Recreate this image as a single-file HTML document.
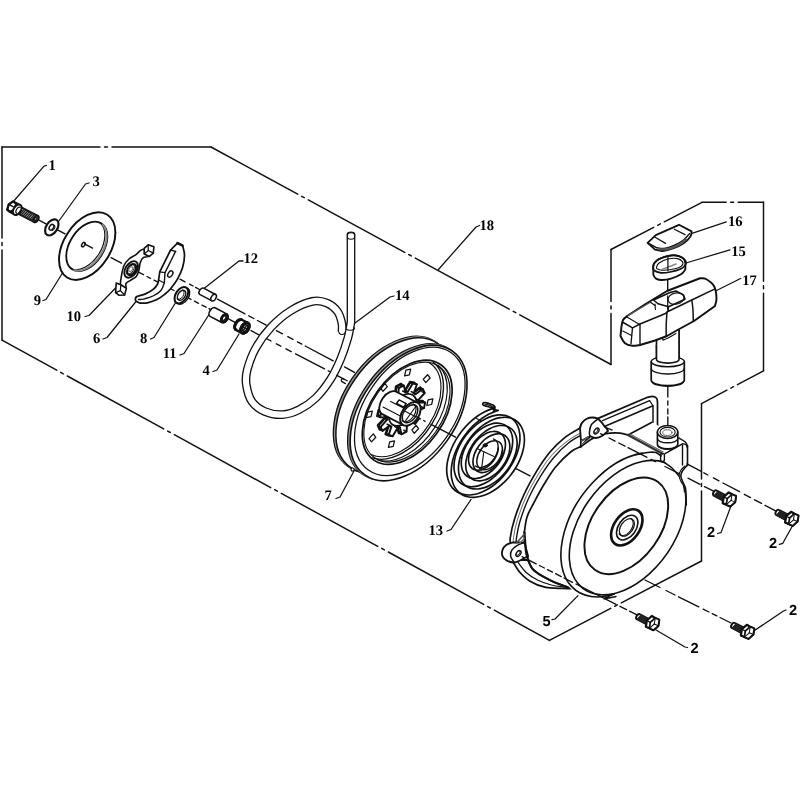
<!DOCTYPE html>
<html lang="en"><head><meta charset="utf-8"><title>Recoil starter assembly</title>
<style>
html,body{margin:0;padding:0;background:#fff}
svg{display:block}
svg path,svg ellipse,svg circle,svg line,svg polygon,svg rect{fill:none;stroke:#111;stroke-linecap:round;stroke-linejoin:round}
svg .w{fill:#fff}
svg .k{fill:#111}
text{fill:#000;stroke:none;font-weight:bold;text-rendering:geometricPrecision}
.t{font-family:"Liberation Serif",serif}
.s{font-family:"Liberation Sans",sans-serif}
</style></head><body>
<svg width="800" height="800" viewBox="0 0 800 800">
<defs><filter id="nf" x="0" y="0" width="800" height="800" filterUnits="userSpaceOnUse"><feOffset dx="0" dy="0"/></filter></defs>
<rect x="0" y="0" width="800" height="800" style="fill:#fff;stroke:none"/>
<path d="M2 147L100 147M104.5 147L107.5 147M112 147L211 147" stroke-width="1.49" />
<path d="M211 147L297.7 194.2M301.7 196.3L304.3 197.7M308.3 199.9L404.7 252.3M408.7 254.5L411.3 255.9M415.3 258.1L509.2 309.2M513.2 311.3L515.8 312.7M519.8 314.9L611 364.5" stroke-width="1.49" />
<path d="M611 364.5L611 313.4M611 308.9L611 305.9M611 301.4L611 249.5" stroke-width="1.49" />
<path d="M611 249.5L653.7 227.4M657.7 225.3L660.3 223.9M664.3 221.8L702 202.3" stroke-width="1.49" />
<path d="M702 202.3L726.2 202.3M730.7 202.3L733.7 202.3M738.2 202.3L763.5 202.3" stroke-width="1.49" />
<path d="M763.5 202.3L763.5 281.2M763.5 285.7L763.5 288.7M763.5 293.2L763.5 370.8" stroke-width="1.49" />
<path d="M763.5 370.8L737.5 384.6M733.5 386.7L730.9 388.1M726.9 390.2L701.5 403.7" stroke-width="1.49" />
<path d="M701.5 403.7L701.5 479M701.5 483.5L701.5 486.5M701.5 491L701.5 561" stroke-width="1.49" />
<path d="M701.5 561L621.3 602.9M617.3 604.9L614.7 606.3M610.7 608.4L549.4 640.4" stroke-width="1.49" />
<path d="M2 340.2L56.7 370.2M60.7 372.4L63.3 373.8M67.3 376L163.7 428.9M167.7 431.1L170.3 432.5M174.3 434.7L270.7 487.6M274.7 489.7L277.3 491.2M281.3 493.3L377.7 546.3M381.7 548.4L384.3 549.9M388.3 552L483.7 604.4M487.7 606.6L490.3 608M494.3 610.2L549.4 640.4" stroke-width="1.49" />
<path d="M2 147L2 238M2 242.5L2 245.5M2 250L2 340.2" stroke-width="1.49" />
<g filter="url(#nf)">
<text class="t" x="48.5" y="169.5" font-size="14.6">1</text>
<path d="M46.5 165.5L44 166.2L12.5 202.5" stroke-width="1.26" />
<text class="t" x="92.5" y="186" font-size="14.6">3</text>
<path d="M89 183L85.5 184L56 225" stroke-width="1.26" />
<text class="t" x="33.7" y="305" font-size="14.6">9</text>
<path d="M43 300.5L46 299.5L67.5 265" stroke-width="1.26" />
<text class="t" x="66.5" y="321" font-size="14.6">10</text>
<path d="M85 316.5L89 315.5L117.5 286" stroke-width="1.26" />
<text class="t" x="93" y="342.5" font-size="14.6">6</text>
<path d="M103 339L107 337.5L136 301.5" stroke-width="1.26" />
<text class="t" x="140" y="342.5" font-size="14.6">8</text>
<path d="M150.5 339L154 337.5L176 302" stroke-width="1.26" />
<text class="t" x="162.7" y="358" font-size="14.6">11</text>
<path d="M180 355L184 353.5L210 313" stroke-width="1.26" />
<text class="t" x="202.5" y="374.5" font-size="14.6">4</text>
<path d="M213 371.5L217 370L239 334" stroke-width="1.26" />
<text class="t" x="243.5" y="263" font-size="14.6">12</text>
<path d="M243 261L239 261L204 288.5" stroke-width="1.26" />
<text class="t" x="395" y="300" font-size="14.6">14</text>
<path d="M394 296L390 297L351 326" stroke-width="1.26" />
<text class="t" x="479.5" y="230" font-size="14.6">18</text>
<path d="M479.5 225.5L476 227L438 270" stroke-width="1.26" />
<text class="t" x="324.5" y="500" font-size="14.6">7</text>
<path d="M336 498.5L340 497L354 471" stroke-width="1.26" />
<text class="t" x="428.5" y="534.5" font-size="14.6">13</text>
<path d="M447 531L451 529.5L472 498" stroke-width="1.26" />
<text class="t" x="728" y="226" font-size="14.6">16</text>
<path d="M726.3 221.9L692 233.3" stroke-width="1.26" />
<text class="t" x="731.3" y="255.6" font-size="14.6">15</text>
<path d="M730 249.8L686 263" stroke-width="1.26" />
<text class="t" x="742.2" y="284.6" font-size="14.6">17</text>
<path d="M740.6 278.5L716 290.8" stroke-width="1.26" />
<text class="s" x="542.5" y="625.6" font-size="14.6">5</text>
<path d="M552 619.6L555 619L578 595.6" stroke-width="1.26" />
<text class="s" x="707" y="537.4" font-size="14.6">2</text>
<path d="M717.5 533.5L721 532.6L730.6 507" stroke-width="1.26" />
<text class="s" x="769" y="547.7" font-size="14.6">2</text>
<path d="M779.4 544.3L782.8 543.3L792.5 525.7" stroke-width="1.26" />
<text class="s" x="789" y="615" font-size="14.6">2</text>
<path d="M786 610L783.5 611L753.8 631" stroke-width="1.26" />
<text class="s" x="690.4" y="653" font-size="14.6">2</text>
<path d="M687.6 647.5L685 647L656 630" stroke-width="1.26" />
</g>
<!-- axes -->
<path d="M37 219.2L46 223.9M58 230.1L65 233.8M106.5 255.4L107.9 256.1M111 257.7L121.5 263.2M139 272.3L143.5 274.6M147 276.5L150.5 278.3M154 280.1L158 282.2M164 285.3L168 287.4M171 289L174 290.5M188.5 298.1L191 299.4M194.5 301.2L198.5 303.3M202 305.1L206 307.2M209 308.7L211.5 310.1M228 318.6L235 322.3M251 330.6L259 334.8M266 338.4L271 341M276.4 343.8L280.8 346.1M286 348.8L291.2 351.6M295.6 353.8L324.5 368.9M328.2 370.8L329.6 371.5M516 468.6L530 475.9" stroke-width="1.38" />
<path d="M174.5 276.2L177 277.5M180 279.1L185 281.8M189.5 284.2L193 286M195.6 287.4L199.5 289.5M217.5 299.1L245 313.8M248.8 315.8L253.8 318.5M257.5 320.5L266.2 325.1M276.4 330.6L282.5 333.8M287.8 336.6L293 339.4M297.4 341.8L301.8 344.1M305.2 346L333.2 360.9M336.8 362.8L339.5 364.3" stroke-width="1.38" />
<!-- small -->
<path d="M37.8 215.9L19.9 206.6A3.6 2.3 -57.3 0 0 16.1 212.6L34 221.9" stroke-width="1.95" class="w"/>
<ellipse cx="35.9" cy="218.9" rx="3.6" ry="2.3" transform="rotate(-57.3 35.9 218.9)" stroke-width="1.95" class="w"/>
<path d="M24.3 209.2L19.7 214.2M26 210.1L21.4 215.1M27.7 210.9L23 215.9M29.4 211.8L24.7 216.8M31 212.7L26.4 217.7M32.7 213.6L28.1 218.6M34.4 214.4L29.8 219.4M36.1 215.3L31.5 220.3M37.8 216.2L33.2 221.2" stroke-width="1.49" style="stroke:#222"/>
<ellipse cx="35.6" cy="218.8" rx="1.9" ry="1.2" transform="rotate(-57.3 35.6 218.8)" stroke-width="1.15" style="fill:#888"/>
<path d="M13.1 201.4L8.7 204.4L7.2 209.7L10.1 212.1L14.4 214.3L18.8 211.4L20.3 206L17.5 203.7Z" stroke-width="2.18" class="w"/>
<path d="M8.7 204.4L13.1 206.6" stroke-width="1.49" />
<path d="M7.2 209.7L11.5 212" stroke-width="1.49" />
<path d="M16 203.8L13.1 201.4L8.7 204.4L7.2 209.7L10.1 212.1L14.4 209.1Z" stroke-width="1.84" />
<ellipse cx="17.3" cy="209.7" rx="5.7" ry="3.6" transform="rotate(-57.3 17.3 209.7)" stroke-width="2.07" class="w"/>
<path d="M20.2 207.3A3.5 2.2 -57.3 0 0 16.5 213.2" stroke-width="1.2" />
<ellipse cx="51.8" cy="227.4" rx="8.9" ry="5.6" transform="rotate(-57.3 51.8 227.4)" stroke-width="2.18" class="w"/>
<ellipse cx="51.5" cy="227.3" rx="3.1" ry="2" transform="rotate(-57.3 51.5 227.3)" stroke-width="1.49" />
<path d="M52.2 230.6A3.1 2 -57.3 0 0 53.8 225" stroke-width="1.0" />
<ellipse cx="87.2" cy="246.1" rx="37.3" ry="23.4" transform="rotate(-57.3 87.2 246.1)" stroke-width="1.95" class="w"/>
<ellipse cx="86.8" cy="246.4" rx="27.2" ry="17.1" transform="rotate(-57.3 86.8 246.4)" stroke-width="1.84" />
<path d="M70.7 268.5A27.2 17.1 -57.3 0 0 99.7 222.6" stroke-width="1.2" />
<path d="M74.2 270.2A27.2 17.1 -57.3 0 0 102.8 224.9" stroke-width="2.0" style="stroke:#888"/>
<ellipse cx="83.4" cy="244.6" rx="2.4" ry="1.5" transform="rotate(-57.3 83.4 244.6)" stroke-width="1.49" />
<ellipse cx="181.4" cy="295.2" rx="9.1" ry="5.7" transform="rotate(-57.3 181.4 295.2)" stroke-width="2.07" class="w"/>
<ellipse cx="181.6" cy="295.3" rx="5.5" ry="3.5" transform="rotate(-57.3 181.6 295.3)" stroke-width="1.49" />
<path d="M177 299.1A5.5 3.5 -57.3 0 0 182.9 289.8" stroke-width="1.0" />
<path d="M177 302.7A9.1 5.7 -57.3 1 0 186.5 287.8" stroke-width="1.3" />
<path d="M215.6 294.5L203.6 288.2A3.7 2.3 -57.3 0 0 199.6 294.4L211.6 300.7" stroke-width="1.49" class="w"/>
<ellipse cx="213.6" cy="297.6" rx="3.7" ry="2.3" transform="rotate(-57.3 213.6 297.6)" stroke-width="1.49" class="w"/>
<path d="M227.1 314.1L215.5 308A4.9 3.1 -57.3 0 0 210.1 316.4L221.7 322.5" stroke-width="1.61" class="w"/>
<ellipse cx="224.4" cy="318.3" rx="4.9" ry="3.1" transform="rotate(-57.3 224.4 318.3)" stroke-width="1.61" class="w"/>
<ellipse cx="224.4" cy="318.3" rx="4.2" ry="2.6" transform="rotate(-57.3 224.4 318.3)" stroke-width="2.53" class="w"/>
<ellipse cx="224" cy="318.1" rx="2.5" ry="1.6" transform="rotate(-57.3 224 318.1)" stroke-width="1.38" />
<path d="M248.1 323L242.3 320A5.9 3.7 -57.3 0 0 235.9 329.9L241.8 332.9" stroke-width="2.53" class="w"/>
<ellipse cx="245" cy="328" rx="5.9" ry="3.7" transform="rotate(-57.3 245 328)" stroke-width="2.53" class="w"/>
<ellipse cx="245" cy="328" rx="5.9" ry="3.7" transform="rotate(-57.3 245 328)" stroke-width="2.53" class="w"/>
<ellipse cx="245" cy="328" rx="3.7" ry="2.3" transform="rotate(-57.3 245 328)" stroke-width="1.49" style="fill:#bbb"/>
<path d="M241.3 319.6A5.9 3.7 -57.3 0 0 235.5 329.5" stroke-width="3.0" />
<path d="M246.9 325L243.1 330.9" stroke-width="1.15" />
<path d="M243 327L246.9 329" stroke-width="1.15" />
<path d="M727.8 496.3L716.8 490.6A2.9 1.9 -57.3 0 0 713.7 495.6L724.6 501.3" stroke-width="1.95" class="w"/>
<path d="M718 491.6L714.3 495.5M719.2 492.3L715.5 496.2M720.5 492.9L716.8 496.8M721.7 493.6L718 497.5M723 494.2L719.3 498.1M724.2 494.8L720.5 498.8M725.4 495.5L721.7 499.4M726.7 496.1L723 500.1" stroke-width="1.44" style="stroke:#222"/>
<path d="M728.7 492.4L723.7 496.8L722.7 503.1L726.8 504.9L730.2 506.4L735.1 502.1L736 496.1L732 494.3Z" stroke-width="2.3" class="w"/>
<path d="M736 496.1L732 494.3L727.2 498.6L726.3 504.7L730.2 506.4L735.1 502.1Z" stroke-width="1.72" class="w"/>
<path d="M723.7 496.8L727.2 498.6" stroke-width="1.38" />
<path d="M722.7 503.1L726.3 504.7" stroke-width="1.38" />
<path d="M731.1 500.4L732 494.3" stroke-width="1.03" />
<path d="M731.1 500.4L726.3 504.7" stroke-width="1.03" />
<path d="M731.1 500.4L735.1 502.1" stroke-width="1.03" />
<path d="M790.2 515.7L779.2 510A2.9 1.9 -57.3 0 0 776.1 515L787 520.7" stroke-width="1.95" class="w"/>
<path d="M780.4 511L776.7 514.9M781.6 511.7L777.9 515.6M782.9 512.3L779.2 516.2M784.1 513L780.4 516.9M785.4 513.6L781.7 517.5M786.6 514.2L782.9 518.2M787.8 514.9L784.1 518.8M789.1 515.5L785.4 519.5" stroke-width="1.44" style="stroke:#222"/>
<path d="M791.1 511.8L786.1 516.2L785.1 522.5L789.2 524.3L792.6 525.8L797.5 521.5L798.4 515.5L794.4 513.7Z" stroke-width="2.3" class="w"/>
<path d="M798.4 515.5L794.4 513.7L789.6 518L788.7 524.1L792.6 525.8L797.5 521.5Z" stroke-width="1.72" class="w"/>
<path d="M786.1 516.2L789.6 518" stroke-width="1.38" />
<path d="M785.1 522.5L788.7 524.1" stroke-width="1.38" />
<path d="M793.5 519.8L794.4 513.7" stroke-width="1.03" />
<path d="M793.5 519.8L788.7 524.1" stroke-width="1.03" />
<path d="M793.5 519.8L797.5 521.5" stroke-width="1.03" />
<path d="M745.9 628.7L735 623A2.9 1.9 -57.3 0 0 731.8 628L742.7 633.7" stroke-width="1.95" class="w"/>
<path d="M736.1 624L732.4 627.9M737.4 624.7L733.7 628.6M738.6 625.3L734.9 629.2M739.9 626L736.2 629.9M741.1 626.6L737.4 630.5M742.3 627.2L738.7 631.2M743.6 627.9L739.9 631.8M744.8 628.5L741.1 632.5" stroke-width="1.44" style="stroke:#222"/>
<path d="M746.8 624.8L741.8 629.2L740.9 635.5L745 637.3L748.4 638.8L753.3 634.5L754.2 628.5L750.2 626.7Z" stroke-width="2.3" class="w"/>
<path d="M754.2 628.5L750.2 626.7L745.3 631L744.4 637.1L748.4 638.8L753.3 634.5Z" stroke-width="1.72" class="w"/>
<path d="M741.8 629.2L745.3 631" stroke-width="1.38" />
<path d="M740.9 635.5L744.4 637.1" stroke-width="1.38" />
<path d="M749.3 632.8L750.2 626.7" stroke-width="1.03" />
<path d="M749.3 632.8L744.4 637.1" stroke-width="1.03" />
<path d="M749.3 632.8L753.3 634.5" stroke-width="1.03" />
<path d="M650.9 620L640 614.3A2.9 1.9 -57.3 0 0 636.8 619.2L647.7 624.9" stroke-width="1.95" class="w"/>
<path d="M641.1 615.3L637.4 619.2M642.4 615.9L638.7 619.8M643.6 616.6L639.9 620.5M644.9 617.2L641.2 621.1M646.1 617.9L642.4 621.8M647.3 618.5L643.7 622.4M648.6 619.1L644.9 623.1M649.8 619.8L646.1 623.7" stroke-width="1.44" style="stroke:#222"/>
<path d="M651.8 616L646.8 620.5L645.9 626.7L650 628.5L653.4 630.1L658.3 625.8L659.2 619.7L655.2 618Z" stroke-width="2.3" class="w"/>
<path d="M659.2 619.7L655.2 618L650.3 622.3L649.4 628.3L653.4 630.1L658.3 625.8Z" stroke-width="1.72" class="w"/>
<path d="M646.8 620.5L650.3 622.3" stroke-width="1.38" />
<path d="M645.9 626.7L649.4 628.3" stroke-width="1.38" />
<path d="M654.3 624L655.2 618" stroke-width="1.03" />
<path d="M654.3 624L649.4 628.3" stroke-width="1.03" />
<path d="M654.3 624L658.3 625.8" stroke-width="1.03" />
<!-- mid -->
<path d="M120.6 285.5C119.9 283.3 121 278.3 121.6 275C122.2 271.7 122.8 268.2 124 265.5C125.2 262.8 127 260.8 129 259C131 257.2 134.1 256 136 254.6C137.9 253.2 139.1 251.3 140.5 250.5C141.9 249.7 143.1 248.7 144.4 249.6C145.7 250.5 148.7 254.6 148.5 256C148.3 257.4 144.4 256.7 143 257.8C141.6 258.9 141 260.5 140.3 262.5C139.6 264.5 139.6 267.7 138.9 270C138.2 272.3 137.7 274.8 136.3 276.5C134.9 278.2 132.2 279.1 130.5 280.3C128.8 281.5 126.8 282.2 126 283.5C125.2 284.8 126.7 287.7 125.8 288C124.9 288.3 121.3 287.7 120.6 285.5Z" stroke-width="1.61" class="w"/>
<path d="M144.2 248.3L148.1 244.8L153.9 246.8L153.3 253.1L149.4 256.4L144.2 253.9Z" stroke-width="1.61" class="w"/>
<path d="M148.1 244.8L148.3 250.5L144.2 253.9" stroke-width="1.26" />
<path d="M148.3 250.5L153.3 253.1" stroke-width="1.26" />
<path d="M116.2 283L120.8 284.8L126.4 288.2L124.6 295L118.8 295.2L115.6 292.6Z" stroke-width="1.61" class="w"/>
<path d="M120.8 284.8L120.4 290.6L115.6 292.6" stroke-width="1.26" />
<path d="M120.4 290.6L124.6 295" stroke-width="1.26" />
<ellipse cx="131.2" cy="269.4" rx="9.1" ry="5.7" transform="rotate(-57.3 131.2 269.4)" stroke-width="1.95" class="w"/>
<ellipse cx="131.6" cy="269.6" rx="6" ry="3.8" transform="rotate(-57.3 131.6 269.6)" stroke-width="2.3" />
<path d="M126.7 273.8A6 3.8 -57.3 0 0 133.1 263.6" stroke-width="1.0" />
<ellipse cx="130.7" cy="269.1" rx="2.6" ry="1.7" transform="rotate(-57.3 130.7 269.1)" stroke-width="1.15" style="stroke:#777"/>
<path d="M170.6 250L177.5 243.1L182.6 245.6C182.9 247.2 184.5 251.3 184.5 255C184.5 258.6 183.8 263.5 182.6 267.5C181.4 271.5 179.6 275.2 177.6 278.8C175.6 282.3 172.8 286.1 170.6 288.8C168.4 291.4 166.8 292.7 164.5 294.5C162.2 296.3 159.8 298.2 157 299.6C154.2 301 150.3 302.2 147.5 302.8C144.7 303.4 141.2 303.1 140 303.2C139.3 302.8 136.7 301.9 136 301C135.3 300.1 135.4 298.3 135.8 297.5C136.2 296.7 138.1 296.2 138.5 296C139.8 295.6 143.5 294.7 146 293.6C148.5 292.5 151.6 290.8 153.5 289.2C155.4 287.6 156.8 285.5 157.6 284C158.4 282.5 158.4 280.7 158.6 280L159.75 271.9Z" stroke-width="1.72" class="w"/>
<path d="M175.6 251.4L165 272.6L164.3 283C163.8 284.2 162.9 288.3 161 290.5C159.1 292.7 155.8 294.6 153 296C150.2 297.4 146.9 298.2 144.5 298.8C142.1 299.4 139.5 299.4 138.5 299.5" stroke-width="1.38" />
<path d="M170.6 250L175.6 251.4" stroke-width="1.38" />
<path d="M159.8 271.9L165 272.6" stroke-width="1.26" />
<path d="M158.6 280L164.3 283" stroke-width="1.26" />
<path d="M177.5 243.1L182.6 245.6" stroke-width="2.53" />
<ellipse cx="170.3" cy="274" rx="3.5" ry="2.2" transform="rotate(-57.3 170.3 274)" stroke-width="1.38" />
<path d="M351 234.5L351 322C350.1 327.2 349.4 332.5 347.8 338.1C346.2 343.7 343.7 351.7 340.8 358.6C337.9 365.5 334.8 372.7 330.6 379.2C326.4 385.8 321 392.9 315.8 398C310.5 403.1 304.6 406.9 299.1 409.7C293.6 412.5 288.2 414.3 282.5 414.6C276.8 414.9 269.7 413.6 264.6 411.4C259.5 409.2 255 406.1 251.9 401.6C248.8 397.1 247.1 389.8 246.3 384.5C245.5 379.2 245.7 375.7 247.3 369.6C248.9 363.5 251.9 354.8 255.9 347.8C259.9 340.7 265.3 333.3 271.1 327.1C276.9 320.9 284 314.9 290.9 310.6C297.8 306.3 306.2 302.6 312.2 301.4C318.3 300.1 322.9 301.4 327.1 303.1C331.3 304.8 335.1 308.2 337.5 311.5C339.9 314.8 341.1 319.7 341.8 323C342.6 326.3 342 330.1 342 331.5" stroke-width="8.74" style="stroke-linecap:butt"/>
<ellipse cx="351" cy="234.5" rx="3.8" ry="2.3" stroke-width="1.2" class="k"/>
<circle cx="342" cy="331.3" r="3.8" stroke-width="0" class="k"/>
<path d="M351 234.5L351 322C350.1 327.2 349.4 332.5 347.8 338.1C346.2 343.7 343.7 351.7 340.8 358.6C337.9 365.5 334.8 372.7 330.6 379.2C326.4 385.8 321 392.9 315.8 398C310.5 403.1 304.6 406.9 299.1 409.7C293.6 412.5 288.2 414.3 282.5 414.6C276.8 414.9 269.7 413.6 264.6 411.4C259.5 409.2 255 406.1 251.9 401.6C248.8 397.1 247.1 389.8 246.3 384.5C245.5 379.2 245.7 375.7 247.3 369.6C248.9 363.5 251.9 354.8 255.9 347.8C259.9 340.7 265.3 333.3 271.1 327.1C276.9 320.9 284 314.9 290.9 310.6C297.8 306.3 306.2 302.6 312.2 301.4C318.3 300.1 322.9 301.4 327.1 303.1C331.3 304.8 335.1 308.2 337.5 311.5C339.9 314.8 341.1 319.7 341.8 323C342.6 326.3 342 330.1 342 331.5" stroke-width="6.09" style="stroke:#fff;stroke-linecap:butt"/>
<ellipse cx="351" cy="234.5" rx="2.65" ry="1.3" style="fill:#fff;stroke:none"/>
<circle cx="342" cy="331.3" r="2.65" style="fill:#fff;stroke:none"/>
<path d="M347.3 237A3.7 2.2 0 0 0 354.7 237" stroke-width="1.15" />
<path d="M346.6 329.2A3.8 1.6 0 0 0 354 327.6" stroke-width="1.15" />
<!-- pulley -->
<path d="M343 378.6L347.2 380.8M341.6 381.4L345.4 383.6M343 378.6A1.8 1.8 0 0 0 341.6 381.4" stroke-width="1.26" />
<ellipse cx="392.2" cy="404.5" rx="75.8" ry="47.4" transform="rotate(-54.7 392.2 404.5)" stroke-width="2.18" class="w"/>
<ellipse cx="393.3" cy="405" rx="75.8" ry="47.4" transform="rotate(-54.7 393.3 405)" stroke-width="1.72" style="stroke:#999"/>
<ellipse cx="394.3" cy="405.6" rx="75.8" ry="47.4" transform="rotate(-54.7 394.3 405.6)" stroke-width="1.49" class="w"/>
<ellipse cx="406.5" cy="411.9" rx="75.8" ry="47.4" transform="rotate(-54.7 406.5 411.9)" stroke-width="2.18" class="w"/>
<ellipse cx="407.5" cy="412.4" rx="75.8" ry="47.4" transform="rotate(-54.7 407.5 412.4)" stroke-width="1.72" style="stroke:#999"/>
<ellipse cx="408.6" cy="413" rx="75.8" ry="47.4" transform="rotate(-54.7 408.6 413)" stroke-width="1.61" class="w"/>
<ellipse cx="409.8" cy="411.4" rx="71.8" ry="44.8" transform="rotate(-54.7 409.8 411.4)" stroke-width="1.26" />
<circle cx="352.6" cy="469.6" r="1.6" stroke-width="1.2" class="w"/>
<ellipse cx="407.2" cy="412.3" rx="58.3" ry="36.4" transform="rotate(-54.7 407.2 412.3)" stroke-width="1.72" />
<ellipse cx="406.9" cy="412.1" rx="55.9" ry="34.9" transform="rotate(-54.7 406.9 412.1)" stroke-width="1.15" />
<path d="M372.5 457.9A57.1 35.7 -54.7 0 0 433.2 362.2" stroke-width="1.38" />
<path d="M371 454.4A54.4 34 -54.7 0 0 429.2 362.8" stroke-width="1.15" />
<path d="M377.6 460A56.8 35.5 -54.7 0 0 437.9 365.2" stroke-width="1.15" />
<path d="M409.4 374.8L410.7 369.2L405.9 370.1L404.6 375.8Z" stroke-width="1.26" />
<path d="M425.8 382.6L430.1 378L427.6 374.7L423.3 379.3Z" stroke-width="1.26" />
<path d="M426.8 405.5L431.6 404.5L432.9 398.9L428.1 399.8Z" stroke-width="1.26" />
<path d="M411.9 430L414.3 433.3L418.6 428.6L416.1 425.3Z" stroke-width="1.26" />
<path d="M389.7 441.8L388.4 447.4L393.2 446.4L394.5 440.8Z" stroke-width="1.26" />
<path d="M373.3 433.9L369 438.6L371.5 441.9L375.8 437.3Z" stroke-width="1.26" />
<path d="M372.3 411.1L367.5 412.1L366.2 417.7L371 416.7Z" stroke-width="1.26" />
<path d="M387.3 386.6L384.8 383.3L380.5 388L383 391.3Z" stroke-width="1.26" />
<path d="M415.5 398.7L422 391.6L420.2 387.6L412.8 392.8L411.3 391.6L414.3 382.9L410.1 382.1L405.1 390.4L402.7 391L401.1 384L396.1 386.7L395.4 395L393.1 397L387.5 394.5L383.7 399.7L387.5 404.7L386.2 407.5L378.7 410.3L377.4 416L384.3 415.8L384.5 418.3L378 425.5L379.8 429.5L387.2 424.2L388.7 425.4L385.7 434.1L389.9 434.9L394.9 426.6L397.3 426.1L398.9 433L403.9 430.3L404.6 422.1L406.9 420L412.5 422.6L416.3 417.3L412.5 412.4L413.8 409.6L421.3 406.7L422.6 401L415.7 401.2Z" stroke-width="2.64" class="w"/>
<path d="M418.2 400.1L424.7 393L422.8 388.9L415.5 394.2L413.9 393L416.9 384.3L412.7 383.5L407.8 391.8L405.4 392.3L403.8 385.4L398.8 388.1L398.1 396.3L395.8 398.4L390.2 395.9L386.3 401.1L390.1 406L388.8 408.9L381.3 411.7L380.1 417.4L387 417.2L387.1 419.7L380.7 426.9L382.5 430.9L389.8 425.6L391.4 426.8L388.4 435.5L392.6 436.3L397.6 428L399.9 427.5L401.5 434.4L406.5 431.7L407.2 423.5L409.5 421.4L415.1 423.9L419 418.7L415.2 413.8L416.5 411L424 408.1L425.2 402.4L418.3 402.6Z" stroke-width="1.95" class="w"/>
<path d="M415.5 398.7L418.2 400.1M422 391.6L424.7 393M420.2 387.6L422.8 388.9M412.8 392.8L415.5 394.2M411.3 391.6L413.9 393M414.3 382.9L416.9 384.3M410.1 382.1L412.7 383.5M405.1 390.4L407.8 391.8M402.7 391L405.4 392.3M401.1 384L403.8 385.4M396.1 386.7L398.8 388.1M395.4 395L398.1 396.3M393.1 397L395.8 398.4M387.5 394.5L390.2 395.9M383.7 399.7L386.3 401.1M387.5 404.7L390.1 406M386.2 407.5L388.8 408.9M378.7 410.3L381.3 411.7M377.4 416L380.1 417.4M384.3 415.8L387 417.2M384.5 418.3L387.1 419.7M378 425.5L380.7 426.9M379.8 429.5L382.5 430.9M387.2 424.2L389.8 425.6M388.7 425.4L391.4 426.8M385.7 434.1L388.4 435.5M389.9 434.9L392.6 436.3M394.9 426.6L397.6 428M397.3 426.1L399.9 427.5M398.9 433L401.5 434.4M403.9 430.3L406.5 431.7M404.6 422.1L407.2 423.5M406.9 420L409.5 421.4M412.5 422.6L415.1 423.9M416.3 417.3L419 418.7M412.5 412.4L415.2 413.8M413.8 409.6L416.5 411M421.3 406.7L424 408.1M422.6 401L425.2 402.4M415.7 401.2L418.3 402.6" stroke-width="1.61" />
<ellipse cx="402.7" cy="409.9" rx="17.9" ry="11.2" transform="rotate(-54.7 402.7 409.9)" stroke-width="1.84" class="w"/>
<path d="M418.1 403L397.2 392.2A13.3 8.3 -54.7 0 0 381.8 413.9L402.7 424.8" stroke-width="1.84" class="w"/>
<path d="M399.1 399.9L406.2 403.6L403.6 407.2L396.5 403.5Z" stroke-width="1.49" />
<path d="M390.7 401.4L409.3 411.1" stroke-width="1.15" />
<path d="M383 407.1L401.7 416.8" stroke-width="1.15" />
<ellipse cx="410.4" cy="413.9" rx="13.3" ry="8.3" transform="rotate(-54.7 410.4 413.9)" stroke-width="1.95" class="w"/>
<ellipse cx="410" cy="413.7" rx="10.1" ry="6.3" transform="rotate(-54.7 410 413.7)" stroke-width="1.49" />
<path d="M402.2 420.9A10.1 6.3 -54.7 1 0 413.2 404.1" stroke-width="1.15" />
<path d="M415.3 407L405.5 420.9" stroke-width="1.03" />
<path d="M405.1 411.2L414.8 416.2" stroke-width="1.15" />
<!-- spring -->
<ellipse cx="487.4" cy="454" rx="50.9" ry="32" transform="rotate(-53.4 487.4 454)" stroke-width="0" style="fill:#fff;stroke:none"/>
<path d="M493.6 408.1C492.2 408.6 488 410 485.2 411.4C482.4 412.8 479.5 414.6 476.9 416.5C474.2 418.5 471.5 420.7 469 423.1C466.5 425.5 464.1 428.2 461.9 431C459.8 433.7 457.8 436.7 456 439.6C454.2 442.6 452.7 445.7 451.4 448.8C450.1 451.9 449 455 448.3 458C447.5 461 447 464.1 446.8 466.9C446.6 469.8 446.7 472.5 447.1 475.1C447.4 477.6 448.1 480 449 482.2C449.9 484.3 451 486.3 452.4 487.9C453.8 489.5 455.4 491 457.3 492C459.1 493.1 461.1 493.9 463.2 494.4C465.4 494.9 467.7 495.1 470.1 495C472.5 494.8 475 494.4 477.5 493.7C480 492.9 482.6 491.9 485.2 490.6C487.7 489.3 490.3 487.7 492.7 486C495.2 484.2 497.6 482.1 499.9 479.9C502.1 477.7 504.3 475.3 506.2 472.8C508.2 470.3 510 467.6 511.6 464.9C513.2 462.2 514.6 459.4 515.8 456.6C517 453.8 517.9 451 518.6 448.2C519.3 445.5 519.7 442.8 519.9 440.2C520 437.6 520 435.1 519.6 432.8C519.3 430.5 518.7 428.3 517.9 426.4C517.1 424.5 516 422.7 514.8 421.2C513.5 419.8 512 418.5 510.4 417.5C508.7 416.6 506.9 415.8 505 415.4C503 415 500.9 414.8 498.8 414.9C496.6 415.1 494.3 415.5 492.1 416.1C489.8 416.8 487.4 417.8 485.2 418.9C482.9 420.1 480.6 421.5 478.4 423.1C476.2 424.7 474 426.6 472 428.6C469.9 430.6 468 432.7 466.2 435C464.5 437.2 462.8 439.7 461.4 442.1C460 444.5 458.7 447.1 457.7 449.6C456.6 452.1 455.8 454.6 455.2 457.1C454.6 459.5 454.2 462 454.1 464.3C453.9 466.6 454 468.8 454.3 470.9C454.6 472.9 455.2 474.9 455.9 476.6C456.6 478.3 457.6 479.9 458.7 481.2C459.9 482.5 461.2 483.6 462.7 484.5C464.1 485.3 465.8 486 467.5 486.3C469.2 486.7 471.1 486.8 473 486.7C475 486.6 477 486.2 479 485.6C481 485 483.1 484.2 485.2 483.1C487.2 482.1 489.3 480.8 491.2 479.3C493.2 477.9 495.1 476.2 496.9 474.5C498.7 472.7 500.4 470.8 502 468.8C503.5 466.8 505 464.6 506.2 462.5C507.5 460.3 508.6 458 509.5 455.8C510.4 453.6 511.1 451.4 511.7 449.2C512.2 447 512.5 444.9 512.6 442.8C512.8 440.8 512.7 438.8 512.4 437C512.1 435.2 511.6 433.5 511 432C510.3 430.5 509.5 429.1 508.5 428C507.5 426.8 506.3 425.9 505 425.1C503.7 424.4 502.2 423.8 500.7 423.5C499.2 423.2 497.5 423.1 495.8 423.2C494.1 423.3 492.3 423.7 490.6 424.2C488.8 424.7 486.9 425.5 485.2 426.4C483.4 427.3 481.6 428.5 479.9 429.7C478.2 431 476.5 432.5 474.9 434C473.4 435.6 471.9 437.3 470.5 439C469.1 440.8 467.9 442.7 466.8 444.6C465.7 446.4 464.8 448.4 464 450.3C463.2 452.3 462.6 454.2 462.1 456.1C461.7 458 461.4 459.9 461.3 461.6C461.2 463.4 461.3 465.1 461.6 466.6C461.8 468.2 462.2 469.7 462.8 471C463.4 472.3 464.2 473.4 465 474.4C465.9 475.4 466.9 476.2 468.1 476.9C469.2 477.5 470.5 478 471.8 478.2C473.1 478.5 474.5 478.6 476 478.5C477.5 478.3 479 478 480.5 477.6C482.1 477.1 483.6 476.4 485.2 475.6C486.7 474.8 488.2 473.8 489.7 472.7C491.2 471.6 492.6 470.4 493.9 469C495.3 467.7 496.5 466.2 497.7 464.7C498.8 463.2 499.9 461.6 500.8 460C501.7 458.4 502.6 456.7 503.2 455.1C503.9 453.4 504.4 451.8 504.7 450.2C505.1 448.6 505.3 447 505.4 445.5C505.5 444 505.4 442.6 505.2 441.2C504.9 439.9 504.6 438.7 504.1 437.6C503.6 436.5 502.9 435.5 502.2 434.7C501.4 433.9 500.5 433.2 499.6 432.7C498.6 432.2 497.5 431.8 496.4 431.6C495.3 431.4 494.1 431.3 492.8 431.5C491.6 431.6 490.3 431.8 489 432.2C487.8 432.7 486.4 433.2 485.2 433.9C483.9 434.6 482.6 435.4 481.4 436.4C480.2 437.3 479 438.4 477.9 439.5C476.8 440.6 475.7 441.8 474.8 443.1C473.8 444.3 473 445.7 472.2 447C471.5 448.3 470.8 449.7 470.3 451.1C469.7 452.4 469.3 453.8 469 455.1C468.8 456.4 468.6 457.8 468.5 459C468.5 460.2 468.6 461.4 468.8 462.4C469 463.5 469.3 464.5 469.7 465.4C470.2 466.3 470.7 467 471.3 467.7C471.9 468.3 472.7 468.9 473.5 469.3C474.3 469.7 475.1 470 476.1 470.1C477 470.3 478 470.3 479 470.2C480 470.1 481 469.9 482 469.5C483.1 469.2 484.1 468.7 485.2 468.1C486.2 467.5 487.2 466.9 488.2 466.1C489.2 465.4 490.1 464.5 491 463.6C491.8 462.7 492.7 461.7 493.4 460.7C494.2 459.7 494.8 458.6 495.4 457.5C496 456.5 496.5 455.4 496.9 454.3C497.3 453.2 497.6 452.2 497.8 451.1C498 450.1 498.1 448.6 498.2 448.1" stroke-width="1.67" />
<path d="M498 410.4C496.6 411 492.4 412.3 489.6 413.7C486.8 415.1 484 416.9 481.3 418.8C478.6 420.8 475.9 423 473.4 425.4C470.9 427.8 468.5 430.5 466.4 433.3C464.2 436 462.2 439 460.4 442C458.7 444.9 457.1 448 455.8 451.1C454.5 454.2 453.5 457.3 452.7 460.3C452 463.4 451.5 466.4 451.3 469.2C451.1 472.1 451.2 474.8 451.5 477.4C451.9 479.9 452.5 482.3 453.4 484.5C454.3 486.6 455.5 488.6 456.9 490.2C458.2 491.9 459.9 493.3 461.7 494.4C463.5 495.4 465.5 496.2 467.7 496.7C469.8 497.2 472.1 497.4 474.5 497.3C476.9 497.1 479.4 496.7 481.9 496C484.5 495.3 487.1 494.2 489.6 492.9C492.1 491.6 494.7 490.1 497.2 488.3C499.6 486.5 502 484.4 504.3 482.2C506.5 480 508.7 477.6 510.7 475.1C512.6 472.6 514.5 469.9 516.1 467.2C517.7 464.5 519.1 461.7 520.2 458.9C521.4 456.1 522.3 453.3 523 450.5C523.7 447.8 524.1 445.1 524.3 442.5C524.5 439.9 524.4 437.4 524.1 435.1C523.7 432.8 523.1 430.6 522.3 428.7C521.5 426.8 520.4 425 519.2 423.6C517.9 422.1 516.4 420.8 514.8 419.8C513.2 418.9 511.3 418.1 509.4 417.7C507.5 417.3 505.4 417.1 503.2 417.3C501.1 417.4 498.8 417.8 496.5 418.4C494.2 419.1 491.9 420.1 489.6 421.2C487.3 422.4 485 423.8 482.8 425.4C480.6 427 478.4 428.9 476.4 430.9C474.4 432.9 472.4 435 470.7 437.3C468.9 439.6 467.3 442 465.8 444.4C464.4 446.8 463.1 449.4 462.1 451.9C461.1 454.4 460.2 456.9 459.6 459.4C459 461.8 458.7 464.3 458.5 466.6C458.4 468.9 458.5 471.1 458.8 473.2C459.1 475.2 459.6 477.2 460.3 478.9C461.1 480.6 462 482.2 463.2 483.5C464.3 484.8 465.6 485.9 467.1 486.8C468.6 487.6 470.2 488.3 471.9 488.6C473.7 489 475.6 489.1 477.5 489C479.4 488.9 481.4 488.5 483.5 487.9C485.5 487.3 487.6 486.5 489.6 485.4C491.6 484.4 493.7 483.1 495.6 481.7C497.6 480.2 499.5 478.6 501.3 476.8C503.1 475 504.8 473.1 506.4 471.1C508 469.1 509.4 466.9 510.7 464.8C511.9 462.6 513 460.4 513.9 458.1C514.8 455.9 515.6 453.7 516.1 451.5C516.6 449.3 516.9 447.2 517.1 445.1C517.2 443.1 517.1 441.1 516.8 439.3C516.6 437.5 516.1 435.8 515.4 434.3C514.8 432.8 513.9 431.4 512.9 430.3C511.9 429.1 510.7 428.2 509.4 427.4C508.1 426.7 506.6 426.1 505.1 425.8C503.6 425.5 501.9 425.4 500.2 425.5C498.6 425.6 496.8 426 495 426.5C493.2 427 491.4 427.8 489.6 428.7C487.8 429.7 486 430.8 484.3 432.1C482.6 433.3 480.9 434.8 479.4 436.3C477.8 437.9 476.3 439.6 474.9 441.3C473.6 443.1 472.3 445 471.2 446.9C470.1 448.7 469.2 450.7 468.4 452.6C467.6 454.6 467 456.5 466.6 458.4C466.1 460.3 465.8 462.2 465.7 463.9C465.7 465.7 465.7 467.4 466 469C466.2 470.5 466.7 472 467.3 473.3C467.8 474.6 468.6 475.8 469.5 476.7C470.3 477.7 471.4 478.6 472.5 479.2C473.6 479.8 474.9 480.3 476.2 480.5C477.5 480.8 479 480.9 480.4 480.8C481.9 480.7 483.4 480.3 485 479.9C486.5 479.4 488.1 478.7 489.6 477.9C491.1 477.1 492.7 476.1 494.1 475C495.6 473.9 497 472.7 498.4 471.3C499.7 470 501 468.5 502.1 467C503.3 465.5 504.3 463.9 505.3 462.3C506.2 460.7 507 459 507.6 457.4C508.3 455.7 508.8 454.1 509.2 452.5C509.5 450.9 509.8 449.3 509.8 447.8C509.9 446.3 509.8 444.9 509.6 443.6C509.4 442.2 509 441 508.5 439.9C508 438.8 507.3 437.8 506.6 437C505.8 436.2 505 435.5 504 435C503 434.5 502 434.1 500.8 433.9C499.7 433.7 498.5 433.7 497.3 433.8C496.1 433.9 494.8 434.1 493.5 434.6C492.2 435 490.9 435.5 489.6 436.2C488.3 436.9 487 437.7 485.8 438.7C484.6 439.6 483.4 440.7 482.3 441.8C481.2 442.9 480.2 444.1 479.2 445.4C478.3 446.6 477.4 448 476.6 449.3C475.9 450.7 475.2 452 474.7 453.4C474.2 454.8 473.8 456.1 473.5 457.4C473.2 458.8 473 460.1 473 461.3C472.9 462.5 473 463.7 473.2 464.7C473.4 465.8 473.7 466.8 474.2 467.7C474.6 468.6 475.1 469.3 475.8 470C476.4 470.7 477.1 471.2 477.9 471.6C478.7 472 479.6 472.3 480.5 472.4C481.4 472.6 482.4 472.6 483.4 472.5C484.4 472.4 485.4 472.2 486.5 471.8C487.5 471.5 488.6 471 489.6 470.4C490.6 469.9 491.7 469.2 492.6 468.4C493.6 467.7 494.5 466.8 495.4 465.9C496.3 465 497.1 464 497.9 463C498.6 462 499.3 460.9 499.9 459.9C500.4 458.8 500.9 457.7 501.3 456.6C501.7 455.6 502.1 454.5 502.3 453.4C502.5 452.4 502.5 450.9 502.6 450.4" stroke-width="1.67" />
<ellipse cx="489.6" cy="455.2" rx="16.4" ry="10.3" transform="rotate(-53.4 489.6 455.2)" stroke-width="1.49" />
<path d="M475.4 466A16.4 10.3 -53.4 1 0 493.4 438.9" stroke-width="1.38" />
<path d="M498 410.4L491.5 408.8L494.5 406.6" stroke-width="1.55" />
<path d="M493.6 408.1L486.3 406.2" stroke-width="1.55" />
<path d="M486.3 406.2C485.8 406 483.9 405.7 483.3 405.2C482.8 404.7 482.7 403.6 483 403.2C483.3 402.8 484 402.4 485.3 402.6C486.6 402.8 489.4 403.7 491 404.3C492.6 404.9 494 405.5 494.6 406.2C495.2 406.9 495 407.7 494.8 408.6C494.6 409.5 493.7 411 493.5 411.5" stroke-width="1.72" />
<path d="M484.8 404.9C485.2 404.8 486 404.4 487 404.6C488 404.8 489.9 405.4 491 405.9C492.1 406.4 493 407.3 493.4 407.6" stroke-width="1.15" />
<path d="M476.6 418.6L481.4 421.2" stroke-width="1.15" />
<ellipse cx="485.2" cy="445.3" rx="2.2" ry="1.6" stroke-width="1" class="k"/>
<path d="M477.5 448.8L494 456.4" stroke-width="1.15" />
<path d="M483.8 452L481.4 470" stroke-width="1.15" />
<!-- housing -->
<path d="M597.5 418.6C591.6 417.7 588.7 417.9 586.9 418.9C585.1 419.9 582.9 421.8 581.8 423.3C580.6 424.8 580.3 427.2 580 428C577.5 429.6 570 433.3 565 437.3C560 441.3 554.7 446.4 550 452C545.3 457.6 541.4 463.4 537 470.6C532.6 477.8 527.5 486.9 523.8 495C520 503.1 516.7 512.2 514.4 519.4C512.1 526.6 510.8 533.9 510.2 538C509.6 542.1 510.9 543 511 544L524.4 542.5L524.4 532C524.8 529.5 525.5 521.8 527 517C528.5 512.2 530.6 509 533.5 503.5C536.4 498 540.7 489.8 544.4 483.8C548.1 477.7 551.2 472.3 555.6 467C560 461.7 566.4 455.4 570.6 452C574.8 448.6 579.3 447.4 581 446.5L590 436.3Z" stroke-width="1.72" class="w"/>
<path d="M583 434.2C580.6 435.6 573.6 438.9 568.8 442.8C563.9 446.7 558.4 451.9 553.8 457.5C549.1 463.1 544.8 469.4 540.6 476.2C536.4 483.1 531.8 491.2 528.4 498.8C525 506.2 522 514.6 520 521.2C518 527.9 517 534.5 516.4 538.5C515.8 542.5 516.6 544.3 516.6 545.5" stroke-width="1.38" />
<path d="M584 431C581.5 432.5 574.3 435.8 569 439.8C563.7 443.8 557 449.4 552 455C547 460.6 543.1 466.5 538.8 473.5C534.5 480.5 529.6 489.2 526 497C522.4 504.8 519.3 513.7 517.2 520.5C515.1 527.3 514.1 534.2 513.5 538C512.9 541.8 513.8 542.3 513.8 543.2" stroke-width="1.03" style="stroke:#777"/>
<path d="M513.75 563C514.8 564.6 517.3 569.5 520 572.5C522.7 575.5 525.8 578.8 530 581.2C534.2 583.7 539.6 586 545 587.2C550.4 588.4 558 588.2 562.5 588.4C567 588.6 570.4 588.6 572 588.6L570 588C569.2 587.7 567.5 587.2 565 586.2C562.5 585.3 558.8 584.2 555 582.5C551.2 580.8 546.2 578.5 542.5 576.2C538.8 574 534.9 571.5 532.5 568.8C530.1 566 528.8 561.5 528 560L518 560Z" stroke-width="1.84" class="w"/>
<path d="M518 562.3C519.4 564 523 569.5 526.2 572.5C529.5 575.5 533.3 577.9 537.5 580C541.7 582.1 546.5 583.8 551.2 585C556 586.2 563.8 586.9 566.2 587.3" stroke-width="1.26" />
<path d="M528 560C528.8 561.5 530.1 566 532.5 568.8C534.9 571.5 538.8 574 542.5 576.2C546.2 578.5 551.2 580.8 555 582.5C558.8 584.2 562.5 585.3 565 586.2C567.5 587.2 569.2 587.7 570 588" stroke-width="1.95" />
<path d="M597.5 418.6L647.5 397.3C648.4 397.1 651.3 396.2 652.8 396.3C654.3 396.4 655.8 397.2 656.6 398.2C657.4 399.2 657.4 401.8 657.5 402.5L657.5 430L628 447L604 436Z" stroke-width="1.72" class="w"/>
<path d="M602.5 420.6L649.6 400.6" stroke-width="1.26" />
<path d="M605 426.3L653 405.7L653 423" stroke-width="1.49" />
<path d="M649.6 400.6L653 405.7" stroke-width="1.15" />
<path d="M580.6 447C582.2 445.8 586.8 442 590 440C593.2 438 596.7 436.2 600 435C603.3 433.8 606.7 433.3 610 433C613.3 432.7 617 432.7 620 433C623 433.3 626.7 434.7 628 435L652 422L678.8 438L685 442L687.5 446L687.5 465C686.6 466 683.1 469.2 682 471C680.9 472.8 680.4 474.1 680.6 476C680.8 477.9 682.2 480.5 683 482.5C683.8 484.5 684.9 485.8 685.4 488C685.9 490.2 685.8 493 686 496C686.2 499 686.3 504.3 686.4 506A75.4 47.2 -54.4 0 1 600.3 594.6C598.5 595.3 593.8 598.5 590 598.4C586.2 598.3 581.2 596 577.5 593.8C573.8 591.6 570.1 588.3 567.5 585C564.9 581.7 563.2 578.3 562 573.8C560.8 569.2 560.2 563.1 560.2 557.5C560.2 551.9 560.9 545.9 562.2 540C563.5 534.1 566 527.8 568 522C570 516.2 572.3 512 574 505C575.7 498 577 487.5 578 480C579 472.5 579.7 463.3 580 460Z" stroke-width="0" style="fill:#fff;stroke:none"/>
<path d="M580.6 447C582.2 445.8 586.8 442 590 440C593.2 438 596.7 436.3 600 435.2C603.3 434.1 606.7 433.5 610 433.2C613.3 432.9 617 432.9 620 433.2C623 433.5 626.7 434.7 628 435" stroke-width="1.72" />
<path d="M580.6 447L581 440.5" stroke-width="1.72" />
<path d="M642.1 453.4A80.9 50.6 -54.4 1 0 614.1 594.1" stroke-width="1.61" />
<path d="M665 462.8A75.4 47.2 -54.4 1 0 683.9 484.7" stroke-width="1.61" />
<path d="M635.8 454.7C636.9 454.5 639.8 453.8 642.1 453.4C644.5 453 647.7 452.3 650 452.2C652.3 452.1 654.2 452 656 452.6C657.8 453.2 660.2 455.4 661 456" stroke-width="1.61" />
<path d="M665 462.8C665 462.8 663.3 461.6 664.5 462.5C665.7 463.4 669.6 465.8 672 468C674.4 470.2 677.8 474.7 679 476" stroke-width="1.49" />
<path d="M614.1 594.1C612.4 594.8 603.7 598.4 604 598.8C604.3 599.2 614 596.9 616 596.5" stroke-width="1.49" />
<ellipse cx="626.3" cy="525.8" rx="54.1" ry="33.9" transform="rotate(-54.4 626.3 525.8)" stroke-width="1.95" />
<ellipse cx="626.8" cy="527.4" rx="20.3" ry="12.7" transform="rotate(-54.4 626.8 527.4)" stroke-width="2.64" />
<ellipse cx="627.2" cy="527.6" rx="13.8" ry="8.7" transform="rotate(-54.4 627.2 527.6)" stroke-width="1.61" />
<ellipse cx="626.9" cy="527.4" rx="9.8" ry="6.1" transform="rotate(-54.4 626.9 527.4)" stroke-width="1.26" />
<path d="M619 533.9A9.8 6.1 -54.4 1 0 631.3 518.9" stroke-width="1.03" />
<path d="M628 435L652 422.2" stroke-width="1.61" />
<path d="M628 435L662.2 453.6" stroke-width="2.3" style="stroke:#333"/>
<path d="M630 434L663.2 452" stroke-width="1.03" style="stroke:#666"/>
<path d="M665 453.6L682.5 443.8" stroke-width="1.49" />
<path d="M678.8 438C679.8 438.6 683.5 440.5 685 441.8C686.5 443.1 687.2 445.3 687.6 446" stroke-width="1.49" />
<path d="M682.5 443.8C683 443.9 685 443.9 685.8 444.6C686.6 445.3 687.2 447.4 687.5 448" stroke-width="1.26" />
<path d="M682.5 445L682.5 465" stroke-width="1.38" />
<path d="M687.5 446L687.5 465.5" stroke-width="1.61" />
<path d="M660.6 455L660.6 459.6A1.9 1.9 0 0 0 664.4 459.6L664.4 454.6" stroke-width="1.38" />
<path d="M660.6 455.5A1.9 1.4 0 0 1 664.4 454.5" stroke-width="1.15" />
<path d="M687.5 465C686.6 466 683.5 469.2 682.4 471C681.3 472.8 680.7 474.1 680.8 476C680.9 477.9 682.2 480.5 683 482.5C683.8 484.5 684.9 485.8 685.4 488C685.9 490.2 685.9 493.2 686 496C686.1 498.8 686.2 503.5 686.3 505" stroke-width="1.61" />
<path d="M685 466C684.3 466.7 682 468.4 681 470C680 471.6 679 473.6 679 475.5C679 477.4 680.2 479.8 681 481.5C681.8 483.2 683 484.2 683.6 486C684.2 487.8 684.3 491 684.4 492" stroke-width="1.15" />
<path d="M657.4 432.0 L657.4 444.2A10.2 4.6 0 0 0 677.8 444.2L677.8 432.0" stroke-width="1.61" class="w"/>
<path d="M657.4 438.6A10.2 4.2 0 0 0 677.8 438.6" stroke-width="1.38" />
<path d="M658.4 446.5A9.6 4 0 0 0 676.8 446.5" stroke-width="1.15" />
<ellipse cx="667.6" cy="432.0" rx="10.2" ry="6.6" stroke-width="1.5" class="w"/>
<ellipse cx="667.6" cy="432.2" rx="7.6" ry="4.8" stroke-width="1.1"/>
<ellipse cx="667.4" cy="432.6" rx="4.6" ry="2.9" stroke-width="1.0" style="stroke:#666"/>
<path d="M580 428.5C580.3 427.6 580.8 424.7 581.9 423.1C583 421.5 585.1 419.7 586.9 418.8C588.7 417.8 590.7 417.5 592.5 417.5C594.3 417.5 596 418 597.5 418.8C599 419.5 600.1 420.6 601.2 421.9C602.4 423.1 603.6 425.3 604.4 426.2C605.2 427.2 605.9 427.5 606.2 427.8L608 431C607 431.8 604 434.8 602 436C600 437.2 598 437.9 596 438C594 438.1 591 436.6 590 436.3L581 441Z" stroke-width="1.84" class="w"/>
<path d="M597.8 419C596.7 420 592.6 422.8 591.2 425C589.9 427.2 589.6 430.6 589.4 432.5C589.2 434.4 589.9 435.7 590 436.3" stroke-width="1.49" />
<path d="M590 436.3C589.3 437 587.5 438.8 586 440.5C584.5 442.2 581.8 445.5 581 446.5" stroke-width="1.38" />
<path d="M604.4 426.3C604.7 426.6 605 427.2 606.3 427.8C607.6 428.4 611 429.6 612 430" stroke-width="1.38" />
<ellipse cx="596.5" cy="431" rx="3.3" ry="2.1" transform="rotate(-54.4 596.5 431)" stroke-width="1.38" class="w"/>
<path d="M594.7 432.4A2.2 1.4 -54.4 1 0 597.5 429" stroke-width="0.92" />
<path d="M581.5 441L588 437" stroke-width="1.84" style="stroke:#555"/>
<path d="M582 444.5L589.5 438.6" stroke-width="1.15" style="stroke:#777"/>
<path d="M512.5 542.5C511.5 542.9 507.9 543.8 506.2 545C504.6 546.2 503.1 548.1 502.5 550C501.9 551.9 501.8 554.5 502.5 556.2C503.2 558 505 559.6 506.9 560.6C508.8 561.6 511.6 562.5 513.8 562.5C515.9 562.5 518.1 561.3 520 560.5C521.9 559.7 523.6 558.5 525 557.8C526.4 557.1 527.7 556.7 528.2 556.5L524.4 542.5Z" stroke-width="1.84" class="w"/>
<path d="M513.8 562C513.2 561 510.9 558.2 510.6 556.2C510.3 554.2 510.8 551.8 511.9 550C512.9 548.2 514.8 546.9 516.9 545.6C519 544.4 523.1 543 524.4 542.5" stroke-width="1.49" />
<ellipse cx="518.5" cy="553.5" rx="3.3" ry="2.1" transform="rotate(-54.4 518.5 553.5)" stroke-width="1.38" class="w"/>
<path d="M516.7 554.9A2.2 1.4 -54.4 1 0 519.5 551.5" stroke-width="0.92" />
<path d="M524.4 532C524.6 534.2 525.1 541.5 525.4 545C525.7 548.5 525.7 550.5 526.2 553C526.7 555.5 527.9 558.8 528.2 560" stroke-width="2.18" />
<path d="M516.5 543L524 534.5" stroke-width="1.72" style="stroke:#555"/>
<path d="M519.5 543.5L524.4 538" stroke-width="1.15" style="stroke:#777"/>
<!-- handle -->
<path d="M667.7 279.5L667.7 290M667.8 385L667.8 397M667.8 401L667.8 405M667.8 409L667.8 414M667.8 417L667.8 424.5" stroke-width="1.38" />
<path d="M647.6 242.8L655.8 235.2L679 224.8L691.6 231.4C691.4 232.2 691.8 234.6 690.5 236.5C689.2 238.4 686.9 241 684 243C681.1 245 676.6 247.2 673 248.5C669.4 249.8 665.5 250.8 662.5 251C659.5 251.2 656.2 249.8 655 249.6L647.6 242.8Z" stroke-width="1.84" class="w"/>
<path d="M656.5 247.6C657.8 247.7 661.1 248.8 664 248.4C666.9 248.1 670.8 246.9 674 245.5C677.2 244.1 680.9 242 683.5 240C686.1 238 688.5 234.7 689.5 233.6" stroke-width="1.38" />
<path d="M658.5 249.2C659.9 249.2 663.9 249.8 667 249.2C670.1 248.6 673.8 247.4 677 245.8C680.2 244.2 684.5 240.6 686 239.6" stroke-width="2.3" style="stroke:#555"/>
<path d="M647.6 242.8L656.5 247.6" stroke-width="1.49" />
<path d="M655 237.2L665.6 243.4" stroke-width="1.26" />
<path d="M674.4 229.2L685 234.6" stroke-width="1.26" />
<path d="M653.2 266L653.4 275C653.8 275.6 654.6 277.8 656 278.6C657.4 279.4 659.5 280 662 280C664.5 280 667.8 279.6 671 278.6C674.2 277.7 678.6 275.8 681 274.3C683.4 272.8 684.6 270.3 685.3 269.5L685.5 263.5C685.2 262.7 684.7 259.9 683.5 258.6C682.3 257.3 680.7 256.3 678.2 255.8C675.7 255.3 671.7 255.3 668.5 255.8C665.3 256.3 661.4 257.8 659 259C656.6 260.2 655.2 262 654.2 263.2C653.2 264.4 653.4 265.5 653.2 266Z" stroke-width="1.84" class="w"/>
<path d="M653.2 266.8C653.6 265.1 654 262.6 656.5 260.8C659 258.9 664.9 256.6 668.5 255.8C672.1 255 675.5 255.1 678.2 255.8C681 256.5 683.8 258.6 685 260C686.2 261.4 686.2 263 685.5 264.5C684.8 266 683.1 267.8 680.5 269C677.9 270.2 673.2 271.4 670 272C666.8 272.6 663.6 273 661 272.8C658.4 272.5 655.5 271.5 654.2 270.5C653 269.5 652.8 268.4 653.2 266.8Z" stroke-width="1.72" />
<path d="M656.5 267.5C656.8 266.5 657 264.4 659 263C661 261.6 665.7 259.5 668.8 258.8C671.9 258.1 675.2 258.1 677.5 258.6C679.8 259.1 681.5 260.6 682.4 261.6C683.2 262.6 683.2 263.6 682.6 264.6C682 265.6 680.6 266.9 678.5 267.8C676.4 268.7 672.6 269.4 669.8 269.8C667 270.2 663.7 270.3 661.6 270.2C659.5 270.1 658.2 269.4 657.4 269C656.5 268.6 656.2 268.5 656.5 267.5Z" stroke-width="1.15" />
<path d="M662 269.5L676 264" stroke-width="1.61" style="stroke:#888"/>
<path d="M667.9 256.5L667.9 270.5" stroke-width="1.26" />
<path d="M656.5 335L656.5 360L679 360L679 328Z" stroke-width="1.61" class="w"/>
<path d="M651.2 361.6L651.2 380A16.5 5.6 0 0 0 684.3 380L684.3 361.6Z" stroke-width="1.72" class="w"/>
<path d="M651.2 368.6A16.5 5.4 0 0 0 684.3 368.6" stroke-width="1.38" />
<path d="M652 381.5A15.8 5.4 0 0 0 683.5 381.5" stroke-width="1.15" />
<ellipse cx="667.75" cy="361.6" rx="16.5" ry="5.2" stroke-width="1.4" class="w"/>
<path d="M656.5 345L656.5 359.5A11.2 3.6 0 0 0 679 359.5L679 330" stroke-width="1.61" class="w"/>
<path d="M620.5 336L621.4 327C621.7 325.8 622 321.9 623 320C624 318.1 626.8 316.5 627.5 315.8L646 303.75L667 291L700 278.25C701 278.4 703.6 277.6 706 279C708.4 280.4 712.5 283.2 714.2 286.5C716 289.8 716.4 295.2 716.5 298.5C716.6 301.8 715.2 304.8 715 306L694 321L677.5 330L667 336L655 340.5L640 345C638.8 345.1 635 346.1 632.5 345.8C630 345.4 627 344.8 625 343.2C623 341.6 621.2 337.2 620.5 336Z" stroke-width="1.95" class="w"/>
<path d="M623.2 322.5L632.5 327.8L640 324L665.5 313.5L667 312L691.8 300L715 288.8" stroke-width="1.49" />
<path d="M626.5 316.8L639.2 324.2" stroke-width="1.26" />
<path d="M632.5 327.8L631 343.5" stroke-width="1.38" />
<path d="M640 324L640 345" stroke-width="1.38" />
<path d="M622.8 331L631.6 335.5" stroke-width="1.15" />
<path d="M667 312C666.9 314.2 666.3 321 666.2 325C666.1 329 666.2 334.2 666.2 336" stroke-width="1.49" />
<path d="M691.8 300C692 301.7 692.8 306.5 693 310C693.2 313.5 693.2 319.2 693.3 321" stroke-width="1.49" />
<path d="M628 315.5L650.5 302.3" stroke-width="1.15" style="stroke:#555"/>
<path d="M650.5 302.3L655 305.5" stroke-width="1.15" />
<path d="M653.5 300L670 292.5L676 291L683.5 294.8L685 299.2L668.5 306.8L658 303.8Z" stroke-width="1.49" />
<ellipse cx="676" cy="298.6" rx="8" ry="5.6" transform="rotate(-12 676 298.6)" stroke-width="1.1"/>
<path d="M655 304L655.4 309.5" stroke-width="1.15" />
<path d="M668.5 306.8L668.3 311.5" stroke-width="1.15" />
<path d="M667.7 296L667.7 310" stroke-width="1.26" />
<path d="M662.5 338L663 340.2L668.6 337.8L676 333.5" stroke-width="1.15" />
<!-- overlay -->
<path d="M84.5 243.9L92.5 248.1M336.8 375.3L343.5 378.8M416 416.5L420.5 418.9M423.7 420.5L425.1 421.3M431 424.3L455.6 437.2" stroke-width="1.38" />
<path d="M344.5 366.9L354.5 372.3" stroke-width="1.38" />
<path d="M600.5 433.7L603.5 435.2M609 438L615 441.1M618.8 443L625 446.1M628 447.7L647 457.3M651 459.4L655.5 461.6M665 466.5L679 473.6M688 478.2L700 484.3M704.5 486.6L713.6 491.2" stroke-width="1.38" />
<path d="M687 463.9L701.2 471.4M703.8 472.8L707.9 475M713.4 477.9L718.9 480.8M723 483L739.5 491.7M744.3 494.3L750.5 497.6M754.6 499.8L761.5 503.4M765 505.3L775.5 510.8" stroke-width="1.38" />
<path d="M645 580L660 587.5M666 590.5L675 595M678.5 596.8L698.8 606.9M703.2 609.1L709 612M712.2 613.6L716.8 615.9M720 617.5L731 623" stroke-width="1.38" />
<path d="M522 556.7L524.5 558M528.8 560.1L536.2 563.9M539.4 565.5L544.4 568M547.5 569.6L552.5 572.1M555.6 573.7L561.2 576.6M564 578L572.5 582.3M576 584L616 604.3M620 606.3L626.5 609.6M629.5 611.1L637 614.9" stroke-width="1.38" />
</svg>
</body></html>
